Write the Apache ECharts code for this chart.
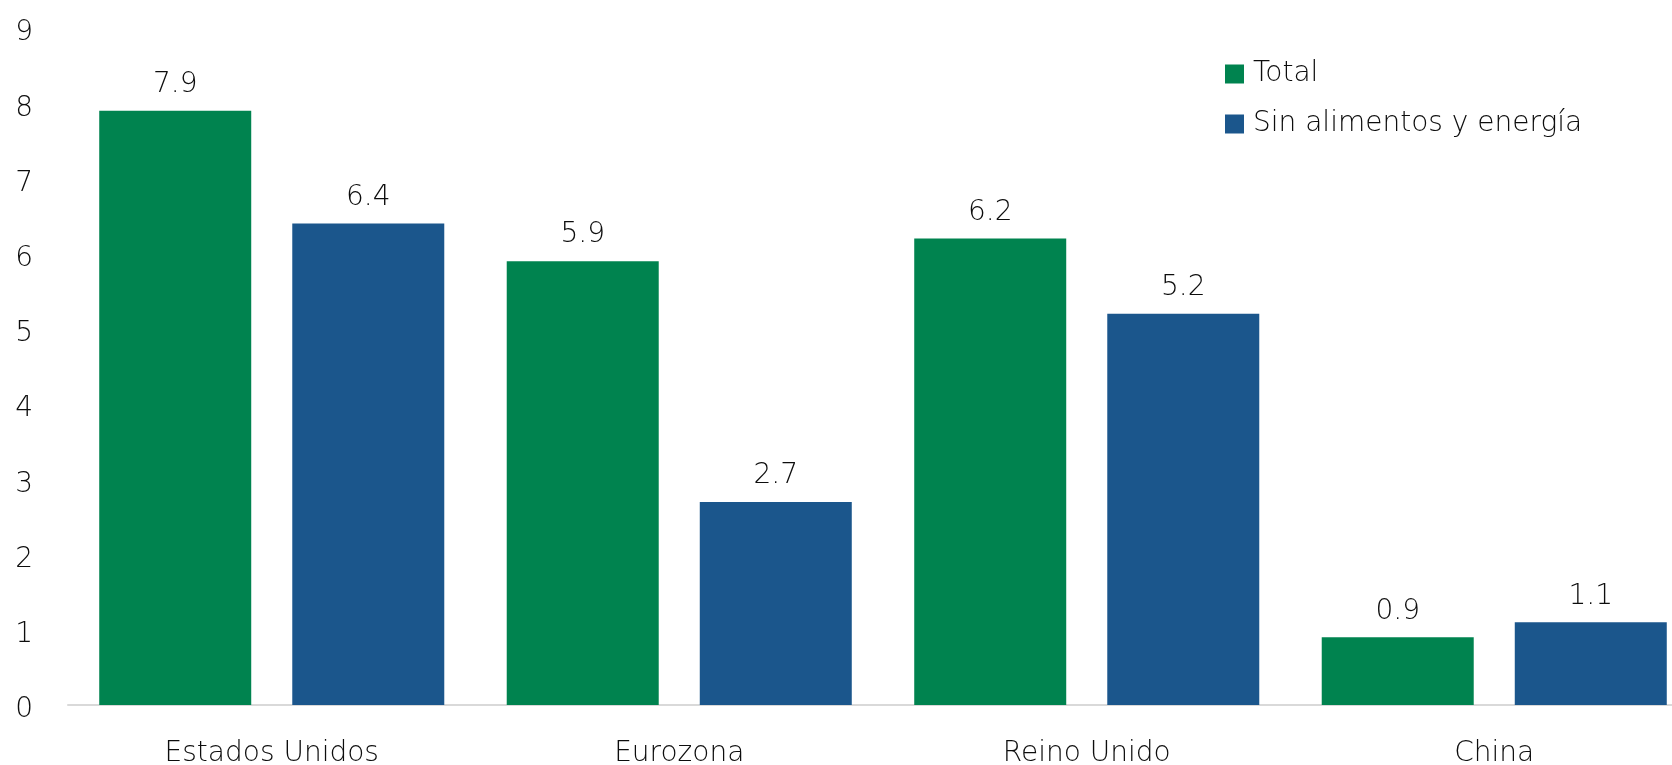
<html lang="es">
<head>
  <meta charset="UTF-8">
  <title>inflacion</title>
  <style>
    html, body { margin: 0; padding: 0; background: #fff; }
    #chart { width: 1672px; height: 765px; }
  </style>
</head>
<body>
  <div id="chart"></div>
  <script src="https://cdn.jsdelivr.net/npm/echarts@6/dist/echarts.min.js"></script>
  <script>
    var categories = ['Estados Unidos', 'Eurozona', 'Reino Unido', 'China']
    var totalVals = [7.9, 5.9, 6.2, 0.9]
    var coreVals = [6.4, 2.7, 5.2, 1.1]
    var seriesNames = ['Total', 'Sin alimentos y energía']
    var colors = ['#00834F', '#1B568C']
    var font = 'DejaVu Sans'
    var textColor = '#0d0d0d'

    var makeSeries = function (name, data, color) {
      return {
        name: name,
        type: 'bar',
        barWidth: 152,
        barGap: '27%',
        itemStyle: { color: color },
        label: {
          show: true,
          position: 'top',
          distance: 12,
          fontFamily: font,
          fontWeight: 200,
          fontSize: 28,
          color: textColor,
          formatter: function (p) { return p.value.toFixed(1) }
        },
        data: data
      }
    }

    var option = {
      animation: false,
      textStyle: { fontFamily: font },
      legend: {
        orient: 'vertical',
        left: 1220,
        top: 55,
        icon: 'rect',
        itemWidth: 19,
        itemHeight: 19,
        itemGap: 22,
        textStyle: { fontFamily: font, fontWeight: 200, fontSize: 28, color: textColor, padding: [0, 0, 0, 4] },
        data: seriesNames
      },
      // the plot runs past the right edge, so the last bar sits close to it
      grid: { left: 68, top: 28, bottom: 60, width: 1630, outerBoundsMode: 'none' },
      xAxis: {
        type: 'category',
        data: categories,
        axisLine: { lineStyle: { color: '#d9d9d9', width: 2 } },
        axisTick: { show: false },
        axisLabel: { fontFamily: font, fontWeight: 200, fontSize: 28, color: textColor, margin: 35 }
      },
      yAxis: {
        type: 'value',
        min: 0,
        max: 9,
        interval: 1,
        splitLine: { show: false },
        axisLine: { show: false },
        axisTick: { show: false },
        axisLabel: {
          fontFamily: font, fontWeight: 200, fontSize: 28, color: textColor, margin: 35,
          verticalAlign: 'top', lineHeight: 10
        }
      },
      series: [
        makeSeries(seriesNames[0], totalVals, colors[0]),
        makeSeries(seriesNames[1], coreVals, colors[1])
      ]
    }

    var chart = echarts.init(document.getElementById('chart'))
    chart.setOption(option)
  </script>
</body>
</html>
